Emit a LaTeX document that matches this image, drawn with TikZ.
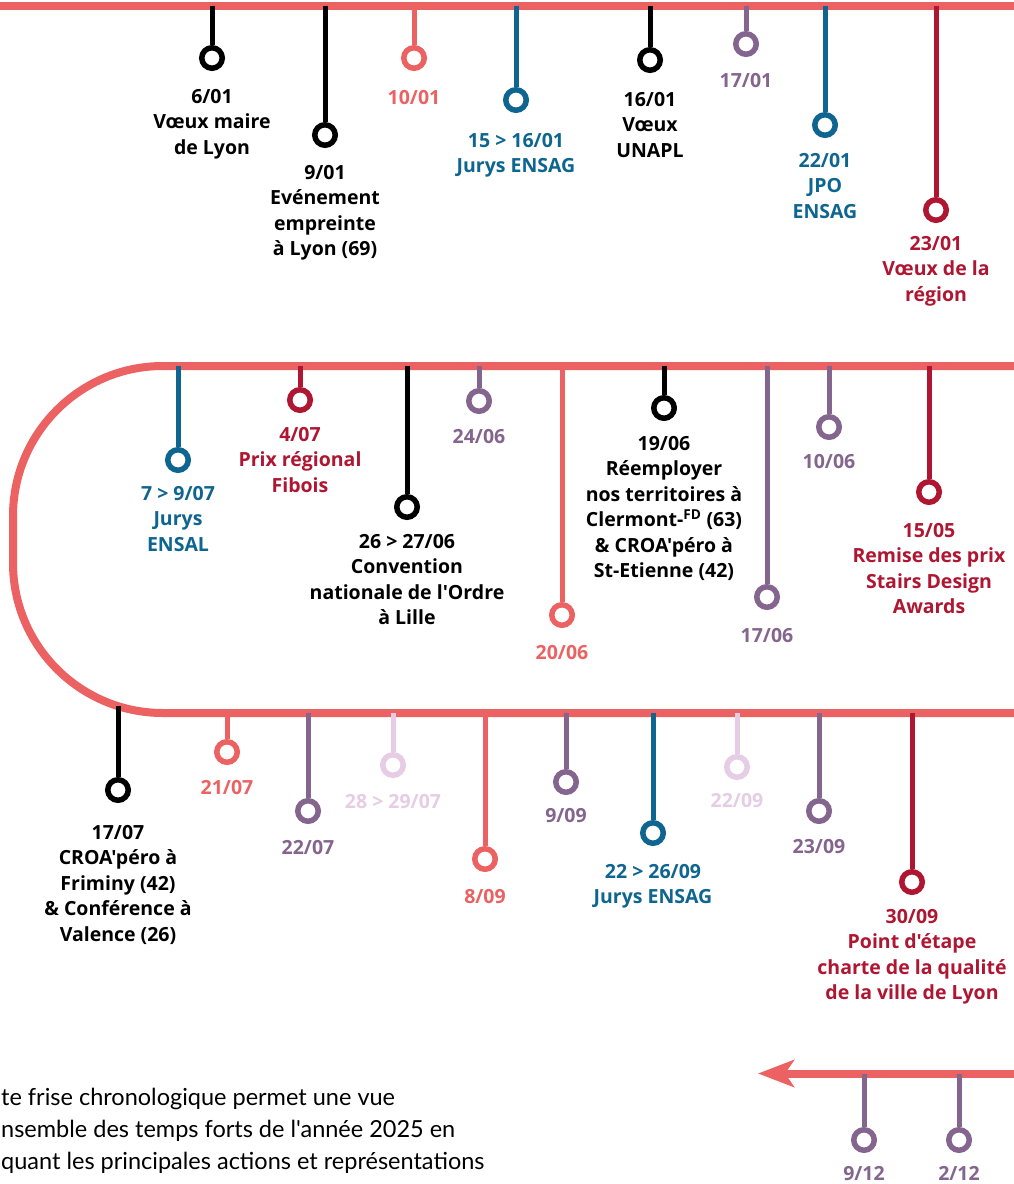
\documentclass[tikz,border=0pt]{standalone}
\usepackage{fontspec}
\setmainfont{Open Sans}[Ligatures=TeXOff]
\newfontfamily\parafont{Lato}[Ligatures=TeXOff]
\usetikzlibrary{arrows.meta}
\definecolor{coral}{HTML}{EC6262}
\definecolor{evblue}{HTML}{0E6690}
\definecolor{evpurple}{HTML}{84658D}
\definecolor{evred}{HTML}{AE1631}
\definecolor{evlav}{HTML}{E6CDE5}
\definecolor{evblack}{HTML}{000000}
\tikzset{
  timeline/.style={draw=coral, line width=8pt},
  stem/.style={line width=5pt},
  dot/.style={circle, draw, line width=5.5pt, fill=white, minimum size=20.5pt, inner sep=0pt},
  lbl/.style={align=center, inner sep=0pt, anchor=north, font=\fontsize{19.5}{25.5}\selectfont\bfseries},
  para/.style={align=left, inner sep=0pt, anchor=north west, font=\parafont\fontsize{23.5}{32}\selectfont},
}
\newcommand\ev[7]{%
  \coordinate (#1t) at (#2,#3);
  \node[dot, draw=#5] (#1) at (#2,#4) {};
  \draw[stem, #5] (#1t) -- (#1);
  \node[lbl, text=#5] (#1l) at (#2,#6-10) {\rule{0pt}{17pt}#7};
}
\begin{document}
\begin{tikzpicture}[x=1pt,y=-1pt]
\useasboundingbox[fill=white] (0,0) rectangle (1013,1184);
% timelines
\coordinate (topA) at (-10,5.5);
\coordinate (topB) at (1023,5.5);
\draw[timeline] (topA) -- (topB);
\coordinate (loopA) at (1023,366);
\coordinate (loopB) at (1023,713);
\draw[timeline, rounded corners=150pt] (loopA) -- (13,366) -- (13,713) -- (loopB);
\coordinate (arrS) at (1023,1073.5);
\coordinate (arrE) at (758,1073.5);
\draw[timeline, -{Stealth[length=36pt,width=27pt,inset=9pt]}, coral] (arrS) -- (arrE);
% top row
\ev{a1}{212}{5.5}{58}{evblack}{96}{6/01\\Vœux maire\\de Lyon}
\ev{a2}{325}{5.5}{135}{evblack}{172}{9/01\\Evénement\\empreinte\\à Lyon (69)}
\ev{a3}{414}{5.5}{58}{coral}{97}{10/01}
\ev{a4}{516}{5.5}{100}{evblue}{140}{15 > 16/01\\Jurys ENSAG}
\ev{a5}{650}{5.5}{60}{evblack}{99}{16/01\\Vœux\\UNAPL}
\ev{a6}{746}{5.5}{44}{evpurple}{80}{17/01}
\ev{a7}{825}{5.5}{125}{evblue}{160}{22/01\\JPO\\ENSAG}
\ev{a8}{936}{5.5}{210}{evred}{243}{23/01\\Vœux de la\\région}
% middle row
\ev{b1}{178}{366}{460}{evblue}{493}{7 > 9/07\\Jurys\\ENSAL}
\ev{b2}{300}{366}{400}{evred}{434}{4/07\\Prix régional\\Fibois}
\ev{b3}{407}{366}{507}{evblack}{541}{26 > 27/06\\Convention\\nationale de l'Ordre\\à Lille}
\ev{b4}{479}{366}{401}{evpurple}{436}{24/06}
\ev{b5}{562}{366}{615}{coral}{652}{20/06}
\ev{b6}{664}{366}{408}{evblack}{443}{19/06\\Réemployer\\nos territoires à\\Clermont-\textsuperscript{FD} (63)\\\& CROA'péro à\\St-Etienne (42)}
\ev{b7}{767}{366}{597}{evpurple}{635}{17/06}
\ev{b8}{829}{366}{427}{evpurple}{461}{10/06}
\ev{b9}{929}{366}{492}{evred}{530}{15/05\\Remise des prix\\Stairs Design\\Awards}
% bottom row
\ev{c1}{118}{706}{790}{evblack}{832}{17/07\\CROA'péro à\\Friminy (42)\\\& Conférence à\\Valence (26)}
\ev{c2}{227}{713}{752}{coral}{787}{21/07}
\ev{c3}{308}{713}{811}{evpurple}{847}{22/07}
\ev{c4}{393}{713}{765}{evlav}{801}{28 > 29/07}
\ev{c5}{485}{713}{859}{coral}{896}{8/09}
\ev{c6}{566}{713}{782}{evpurple}{815}{9/09}
\ev{c7}{653}{713}{833}{evblue}{871}{22 > 26/09\\Jurys ENSAG}
\ev{c8}{737}{713}{767}{evlav}{800}{22/09}
\ev{c9}{819}{713}{811}{evpurple}{846}{23/09}
\ev{c10}{912}{713}{882}{evred}{916}{30/09\\Point d'étape\\charte de la qualité\\de la ville de Lyon}
% last row
\ev{d1}{864}{1073.5}{1140}{evpurple}{1173}{9/12}
\ev{d2}{959}{1073.5}{1140}{evpurple}{1173}{2/12}
% paragraph
\node[para] (txt) at (1,1080) {\rule{0pt}{25pt}te frise chronologique permet une vue\\nsemble des temps forts de l'année 2025 en\\quant les principales actions et représentations};
\end{tikzpicture}
\end{document}
